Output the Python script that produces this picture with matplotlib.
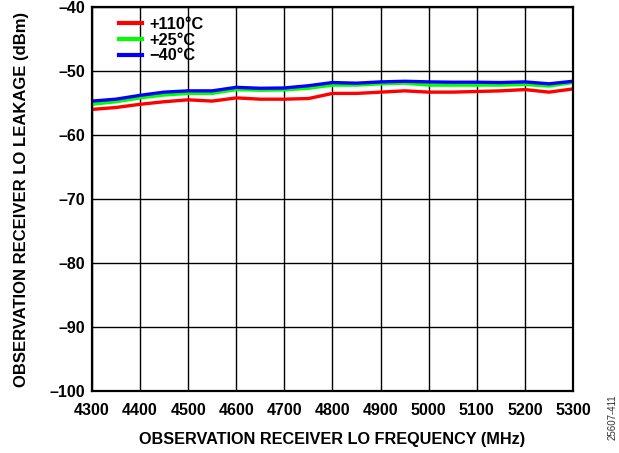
"""Observation receiver LO leakage vs LO frequency at three temperatures"""

import matplotlib

matplotlib.use("Agg")
import matplotlib.pyplot as plt
import numpy as np

plt.rcParams["font.family"] = ["Liberation Sans", "DejaVu Sans"]

freq_mhz = np.arange(4300, 5301, 50)
leak_110c = [-56.0, -55.7, -55.2, -54.8, -54.5, -54.7, -54.2, -54.4, -54.4, -54.3, -53.5,
             -53.5, -53.3, -53.1, -53.3, -53.3, -53.2, -53.1, -52.9, -53.3, -52.8]
leak_25c = [-55.2, -54.8, -54.2, -53.75, -53.5, -53.5, -52.9, -53.0, -52.95, -52.7, -52.2,
            -52.2, -52.0, -51.9, -52.2, -52.2, -52.2, -52.2, -52.1, -52.35, -51.8]
leak_m40c = [-54.7, -54.4, -53.8, -53.3, -53.1, -53.1, -52.55, -52.7, -52.65, -52.3, -51.8,
             -51.9, -51.7, -51.6, -51.7, -51.75, -51.75, -51.8, -51.7, -52.0, -51.6]

series = [
    ("+110°C", leak_110c, "#ff0000"),
    ("+25°C", leak_25c, "#00ff00"),
    ("\u221240°C", leak_m40c, "#0000ff"),
]

fig = plt.figure(figsize=(6.19, 4.53), dpi=100)
ax = fig.add_axes([0.1486, 0.1369, 0.7771, 0.8476])

for label, values, color in series:
    ax.plot(freq_mhz, values, color=color, lw=2.4, label=label)

ax.set_xlim(4300, 5300)
ax.set_ylim(-100, -40)
ax.set_xticks(np.arange(4300, 5301, 100))
yticks = np.arange(-100, -39, 10)
ax.set_yticks(yticks)
ax.set_yticklabels([f"\u2013{abs(v)}" for v in yticks])
ax.grid(which="major", color="black", lw=1.0)
ax.tick_params(axis="x", length=0, pad=9, labelsize=11.5)
ax.tick_params(axis="y", length=0, pad=5, labelsize=11.5)
for lbl in ax.get_xticklabels() + ax.get_yticklabels():
    lbl.set_fontweight("bold")
for spine in ax.spines.values():
    spine.set_linewidth(1.6)

ax.set_xlabel("OBSERVATION RECEIVER LO FREQUENCY (MHz)", fontsize=11.7, fontweight="bold", labelpad=10)
ax.set_ylabel("OBSERVATION RECEIVER LO LEAKAGE (dBm)", fontsize=12, fontweight="bold", labelpad=15)

leg = ax.legend(loc="upper left", frameon=False, prop={"weight": "bold", "size": 11.8},
                handlelength=1.45, handletextpad=0.45, labelspacing=0.05,
                borderaxespad=0.2, bbox_to_anchor=(0.035, 1.0))
for line in leg.get_lines():
    line.set_linewidth(3)

fig.text(0.99, 0.028, "25607-411", rotation=90, fontsize=7, color="#333333",
         ha="center", va="bottom")

fig.savefig("out.png", dpi=100)
